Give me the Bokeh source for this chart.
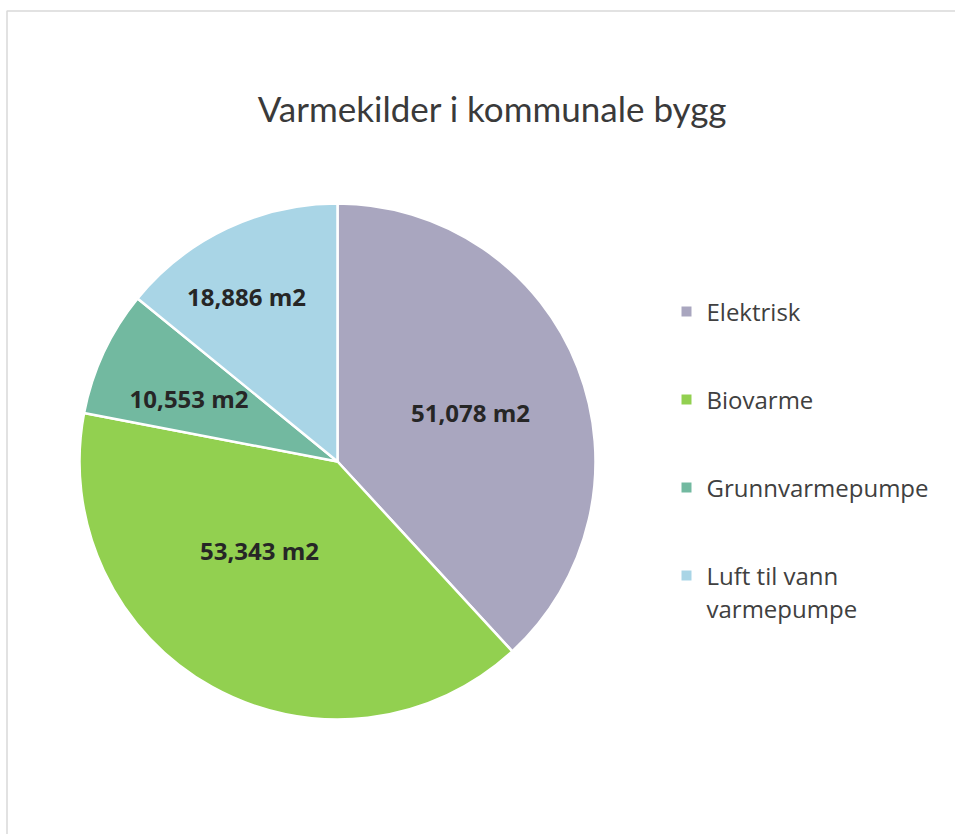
import numpy as np
from bokeh.plotting import figure
from bokeh.models import Range1d, ColumnDataSource
from bokeh.core.properties import value
from bokeh.embed import file_html
from bokeh.resources import INLINE

# ---- data ----
title = "Varmekilder i kommunale bygg"
categories = ["Elektrisk", "Biovarme", "Grunnvarmepumpe", "Luft til vann varmepumpe"]
values = [51078, 53343, 10553, 18886]
unit = "m2"
colors = ["#a9a6bf", "#92d050", "#72b9a0", "#a9d5e6"]

# ---- layout (canvas pixel coords, y up) ----
W, H = 955, 834
cx, cy, R = 337, 373, 258
label_r = [0.55, 0.46, 0.625, 0.73]
label_dang = [-1.0, -12.0, 2.0, 3.5]

vals = np.array(values, dtype=float)
frac = vals / vals.sum()
cum = np.concatenate([[0], np.cumsum(frac)])
start = np.pi / 2 - 2 * np.pi * cum[:-1]
end = np.pi / 2 - 2 * np.pi * cum[1:]
mid = (start + end) / 2 + np.radians(label_dang)
lx = cx + np.array(label_r) * R * np.cos(mid)
ly = cy + np.array(label_r) * R * np.sin(mid)
labels = [f"{v:,} {unit}" for v in values]

src = ColumnDataSource(dict(start=start, end=end, color=colors, lx=lx, ly=ly, label=labels))

p = figure(width=W, height=H, output_backend="svg", toolbar_location=None,
           x_range=Range1d(0, W), y_range=Range1d(0, H), min_border=0,
           outline_line_color=None, background_fill_color="white",
           border_fill_color="white")
p.axis.visible = False
p.grid.visible = False

# outer chart border (top and left visible)
p.line(x=[6.5, 6.5, W], y=[0, H - 10.5, H - 10.5], line_color="#d9d9d9", line_width=1.5)

p.wedge(x=cx, y=cy, radius=R, start_angle="start", end_angle="end",
        direction="clock", fill_color="color", line_color="white",
        line_width=2.5, source=src)

p.text(x="lx", y="ly", text="label", source=src, text_align="center",
       text_baseline="middle", text_font=value("Open Sans"),
       text_font_style="bold", text_font_size="24px", text_color="#262626")

p.text(x=[492], y=[727], text=[title], text_align="center",
       text_baseline="alphabetic", text_font=value("Lato"),
       text_font_size="35px", text_color="#3a3a3a")

# legend
leg_text = ["Elektrisk", "Biovarme", "Grunnvarmepumpe", "Luft til vann\nvarmepumpe"]
leg_x = 686
leg_y0 = 523
leg_step = 88
ly_leg = [leg_y0 - i * leg_step for i in range(len(categories))]
p.scatter(x=[leg_x] * len(categories), y=ly_leg, marker="square", size=10,
          fill_color=colors, line_color=None)
p.text(x=[leg_x + 20] * len(categories), y=[y + 17 for y in ly_leg], text=leg_text,
       text_align="left", text_baseline="top", text_font=value("Open Sans"),
       text_font_size="24px", text_color="#404040", text_line_height=1.0)

open("out.html", "w").write(file_html(p, INLINE))
